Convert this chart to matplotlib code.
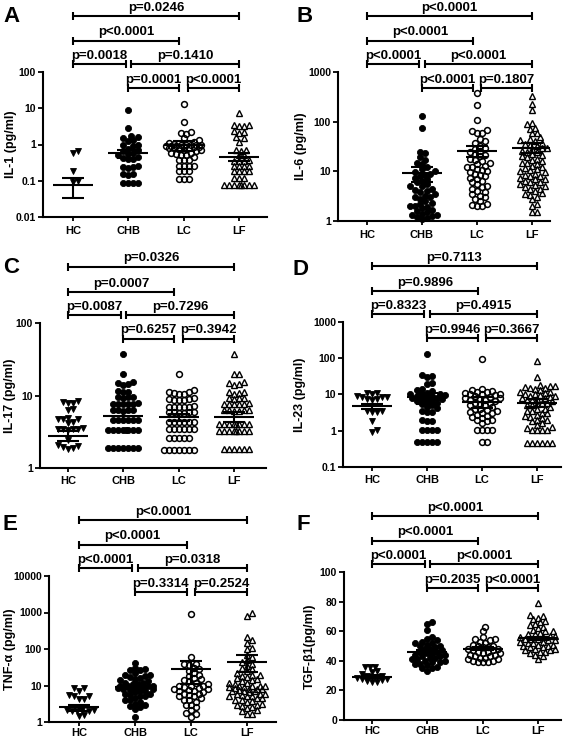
import numpy as np
import matplotlib
matplotlib.use("Agg")
import matplotlib.pyplot as plt
from matplotlib.transforms import blended_transform_factory

plt.rcParams['font.family'] = ['Liberation Sans', 'DejaVu Sans']
plt.rcParams['font.weight'] = 'bold'

GROUPS = ["HC", "CHB", "LC", "LF"]

# ---------------- Panel A: IL-1 ----------------
IL1_HC = [0.60, 0.66, 0.18, 0.10, 0.093]
IL1_CHB = [8.8, 2.8, 1.7, 1.6, 1.5, 1.3, 1.25, 1.0, 0.95, 0.9, 0.75, 0.7, 0.68, 0.6, 0.55, 0.5,
           0.45, 0.42, 0.4, 0.4, 0.25, 0.24, 0.24, 0.23, 0.15, 0.15, 0.145, 0.088, 0.088, 0.088, 0.088]
IL1_LC = [13, 4.1, 2.2, 2.1, 2.0, 1.5, 1.3, 1.2, 1.1, 1.05, 1.0, 1.0, 0.98, 0.95, 0.95, 0.92, 0.9,
          0.9, 0.88, 0.85, 0.85, 0.8, 0.8, 0.78, 0.75, 0.7, 0.7, 0.65, 0.6, 0.58, 0.55, 0.5, 0.5,
          0.45, 0.37, 0.37, 0.37, 0.25, 0.25, 0.25, 0.25, 0.18, 0.18, 0.18, 0.109, 0.109, 0.109]
IL1_LF = [7.2, 3.5, 3.4, 3.3, 3.2, 2.3, 2.2, 2.1, 1.6, 1.5, 1.2, 0.72, 0.7, 0.68, 0.52, 0.5, 0.37,
          0.36, 0.35, 0.35, 0.25, 0.25, 0.25, 0.25, 0.18, 0.18, 0.18, 0.18, 0.116, 0.116, 0.116,
          0.076, 0.076, 0.076, 0.076, 0.076, 0.076, 0.076, 0.076]
IL1_MEAN = [0.077, 0.57, 0.95, 0.46]
IL1_SEM = [0.043, 0.15, 0.3, 0.12]
IL1_P = ["p=0.0018", "p=0.0001", "p<0.0001", "p=0.1410", "p<0.0001", "p=0.0246"]
IL1_TICKS = [0.01, 0.1, 1, 10, 100]
IL1_TICKLABELS = ["0.01", "0.1", "1", "10", "100"]

# ---------------- Panel B: IL-6 ----------------
IL6_HC = []
IL6_CHB = [128, 75, 25, 23, 19, 17, 15, 14, 12, 11, 10, 9.5, 9, 8.5, 8, 7.5, 7, 6.5, 6, 5.5, 5, 5,
           4.5, 4.2, 4, 3.8, 3.5, 3.2, 3, 3, 2.8, 2.5, 2.3, 2.2, 2, 2, 1.9, 1.8, 1.7, 1.6, 1.5, 1.4,
           1.35, 1.3, 1.25, 1.2, 1.15, 1.1]
IL6_LC = [375, 219, 106, 67, 65, 60, 58, 44, 40, 37, 33, 30, 28, 26, 24, 22, 21, 20, 18, 17, 16, 15,
          14, 13, 12.5, 12, 11, 10.5, 10, 9.5, 9, 8.5, 8, 7.5, 7, 6.5, 6, 5.5, 5, 4.8, 4.5, 4, 3.8,
          3.5, 3.2, 3, 2.8, 2.5, 2.2, 2.1, 2.0, 2.0]
IL6_LF = [331, 229, 174, 94, 90, 76, 72, 60, 58, 48, 45, 42, 40, 38, 36, 34, 32, 30, 29, 28, 26, 25,
          24, 22, 21, 20, 19, 18, 17, 16, 15, 14.5, 14, 13, 12, 11.5, 11, 10.5, 10, 9.5, 9, 8.5, 8,
          8, 7.5, 7, 7, 6.5, 6, 6, 5.5, 5.2, 5, 4.8, 4.5, 4.4, 4, 3.6, 3.5, 3.4, 3.0, 2.8, 2.2, 2.0,
          1.5, 1.5]
IL6_MEAN = [None, 9.2, 26, 30]
IL6_SEM = [None, 3.0, 7.0, 7.0]
IL6_P = ["p<0.0001", "p<0.0001", "p=0.1807", "p<0.0001", "p<0.0001", "p<0.0001"]
IL6_TICKS = [1, 10, 100, 1000]
IL6_TICKLABELS = ["1", "10", "100", "1000"]

# ---------------- Panel C: IL-17 ----------------
IL17_HC = [8.3, 8.1, 8.0, 7.8, 6.5, 6.3, 4.9, 4.8, 4.8, 4.7, 4.3, 4.2, 3.6, 3.5, 3.5, 3.5, 3.4, 3.3,
           2.4, 2.05, 2.0, 1.95, 1.9, 1.85]
IL17_CHB = [37, 19.5, 15.5, 15, 14.5, 14, 11.5, 11.2, 11, 9.6, 9.4, 9.4, 9.2, 7.8, 7.7, 7.7, 7.7,
            7.6, 7.6, 6.4, 6.3, 6.3, 6.3, 6.2, 4.6, 4.6, 4.6, 4.6, 4.6, 4.6, 3.3, 3.3, 3.3, 3.3,
            3.3, 3.3, 3.3, 3.3, 1.9, 1.9, 1.9, 1.9, 1.9, 1.9, 1.9]
IL17_LC = [19.5, 11.8, 11.2, 11, 10.8, 10.6, 10.4, 9.2, 9.0, 9.0, 8.8, 8.8, 8.6, 7.1, 7.0, 7.0, 7.0,
           6.9, 6.9, 6.0, 5.9, 5.9, 5.9, 5.8, 5.8, 4.3, 4.3, 4.3, 4.3, 4.3, 4.3, 3.4, 3.4, 3.4, 3.4,
           3.4, 3.4, 2.6, 2.6, 2.6, 2.6, 2.6, 1.75, 1.75, 1.75, 1.75, 1.75, 1.75, 1.75]
IL17_LF = [37, 20, 19.5, 15.5, 15, 14.5, 14, 11.2, 11, 10.8, 10.6, 9.3, 9.2, 9.1, 9.0, 7.8, 7.7, 7.7,
           7.7, 7.6, 7.6, 6.3, 6.3, 6.3, 6.3, 6.2, 6.2, 4.1, 4.1, 4.1, 4.1, 4.1, 4.1, 4.1, 4.1, 3.2,
           3.2, 3.2, 3.2, 3.2, 3.2, 3.2, 3.2, 1.85, 1.85, 1.85, 1.85, 1.85, 1.85]
IL17_MEAN = [2.8, 5.2, 5.0, 5.1]
IL17_SEM = [0.45, 0.7, 0.5, 0.8]
IL17_P = ["p=0.0087", "p=0.6257", "p=0.3942", "p=0.7296", "p=0.0007", "p=0.0326"]
IL17_TICKS = [1, 10, 100]
IL17_TICKLABELS = ["1", "10", "100"]

# ---------------- Panel D: IL-23 ----------------
IL23_HC = [11, 10.7, 10.4, 9.0, 8.8, 8.6, 8.4, 7.5, 7.3, 7.1, 3.5, 3.4, 3.3, 3.2, 1.9, 1.05, 0.95]
IL23_CHB = [131, 35, 32, 30, 21, 19, 14, 13, 12.5, 11, 10.5, 10, 10, 9.5, 9, 9, 8.5, 8, 8, 7.5, 7.5,
            7, 6.5, 6.5, 6, 5.5, 5, 4.5, 4.2, 3.5, 3.3, 3.2, 2.0, 1.9, 1.8, 1.05, 1.04, 1.03, 1.02,
            0.49, 0.49, 0.49, 0.49, 0.49]
IL23_LC = [93, 14, 13, 12.5, 12, 11.5, 11, 10.5, 10, 10, 9.5, 9, 8.5, 8, 8, 7.5, 7, 7, 6.5, 6, 6,
           5.5, 5, 5, 4.5, 4, 4, 3.8, 3.5, 3.2, 3, 3, 2.8, 2.6, 2.4, 2.2, 2.0, 2.0, 1.8, 1.6, 1.05,
           1.04, 1.03, 1.02, 0.49, 0.49]
IL23_LF = [85, 31, 18, 17.5, 17, 16, 15, 15, 14, 13, 12, 12, 11, 10, 10, 9.5, 9, 9, 8.5, 8, 8, 7.5,
           7, 7, 6.5, 6, 6, 5.5, 5, 5, 4.5, 4, 4, 3.5, 3.5, 3, 3, 2.8, 2.6, 2.4, 2.2, 2, 2, 1.8, 1.6,
           1.4, 1.3, 1.2, 1.05, 1.04, 1.03, 1.02, 0.46, 0.46, 0.46, 0.46, 0.46, 0.46]
IL23_MEAN = [4.7, 8.3, 6.3, 6.0]
IL23_SEM = [0.8, 3.0, 2.0, 1.5]
IL23_P = ["p=0.8323", "p=0.9946", "p=0.3667", "p=0.4915", "p=0.9896", "p=0.7113"]
IL23_TICKS = [0.1, 1, 10, 100, 1000]
IL23_TICKLABELS = ["0.1", "1", "10", "100", "1000"]

# ---------------- Panel E: TNF-alpha ----------------
TNF_HC = [8.6, 8.3, 7.2, 5.5, 5.3, 5.1, 4.4, 4.2, 2.2, 2.1, 2.1, 2.0, 2.0, 1.95, 1.55, 1.45]
TNF_CHB = [42, 30, 28, 27, 26, 22, 20, 19, 18, 17, 16, 15, 14, 13, 12, 12, 11, 11, 10, 10, 10, 9.5,
           9, 9, 8.5, 8, 8, 7.5, 7, 7, 6.5, 6, 6, 5.5, 5, 5, 4.5, 4, 4, 3.5, 3.2, 3, 2.8, 2.5, 2.3,
           1.4]
TNF_LC = [900, 60, 40, 38, 36, 30, 28, 25, 22, 20, 18, 16, 15, 14, 13, 12, 11, 10, 10, 9.5, 9, 8.5,
          8, 8, 7.5, 7, 7, 6.5, 6, 6, 5.5, 5, 5, 4.5, 4, 4, 3.5, 3, 3, 2.5, 2.2, 1.8, 1.7, 1.4]
TNF_LF = [940, 800, 220, 180, 145, 107, 100, 68, 60, 50, 45, 40, 35, 30, 28, 25, 22, 20, 20, 18, 17,
          16, 15, 14, 13, 12, 12, 11, 10, 10, 10, 9.5, 9, 9, 8.5, 8, 8, 8, 7.5, 7, 7, 7, 6.5, 6, 6,
          6, 5.5, 5, 5, 5, 4.5, 4.5, 4, 4, 3.8, 3.5, 3.2, 3, 3, 2.8, 2.6, 2.4, 2.2, 2, 1.7, 1.7]
TNF_MEAN = [2.5, 9.0, 29, 45]
TNF_SEM = [0.5, 1.2, 18, 22]
TNF_P = ["p<0.0001", "p=0.3314", "p=0.2524", "p=0.0318", "p<0.0001", "p<0.0001"]
TNF_TICKS = [1, 10, 100, 1000, 10000]
TNF_TICKLABELS = ["1", "10", "100", "1000", "10000"]

# ---------------- Panel F: TGF-beta1 ----------------
TGF_HC = [36, 35.5, 35.5, 33, 32.5, 31, 30, 29.5, 29, 29, 28.5, 28, 27.5, 27, 26.5, 26, 25.5]
TGF_CHB = [66, 65, 61, 56, 55, 54, 53, 52, 52, 51, 50, 50, 49, 48, 48, 47, 46, 46, 45, 45, 44, 44,
           43, 43, 42, 42, 41, 41, 40, 40, 39, 39, 38, 38, 37, 36, 35, 35, 33]
TGF_LC = [63, 60, 56, 55, 55, 54, 53, 52, 51, 50, 50, 49, 49, 48, 48, 47, 47, 46, 46, 45, 45, 44, 44,
          43, 43, 42, 42, 41, 41, 40, 40, 39, 39, 39]
TGF_LF = [79, 71, 70, 69, 68, 67, 66, 65, 64, 63, 62, 61, 60, 60, 59, 58, 58, 57, 57, 56, 56, 55, 55,
          55, 54, 54, 53, 53, 52, 52, 51, 51, 50, 50, 49, 49, 48, 48, 47, 47, 46, 46, 45, 44, 43, 41]
TGF_MEAN = [29.3, 46, 48.3, 55.2]
TGF_SEM = [0.8, 1.2, 0.9, 1.0]
TGF_P = ["p<0.0001", "p=0.2035", "p<0.0001", "p<0.0001", "p<0.0001", "p<0.0001"]
TGF_TICKS = [0, 20, 40, 60, 80, 100]
TGF_TICKLABELS = ["0", "20", "40", "60", "80", "100"]

# bracket pairs (same order as the *_P lists) and their stacking level
PAIRS = [(0, 0.95), (1, 1.92), (2.08, 3), (1.05, 3), (0, 1.92), (0, 3)]
LEVELS = [2, 1, 1, 2, 3, 4]
LEVEL_OFFSET_PX = {1: 16, 2: -8, 3: -31, 4: -56}

W, H = 567, 741
fig = plt.figure(figsize=(W / 100, H / 100), dpi=100)

panels = [
    dict(letter="A", lpos=(3, 6), ylabel="IL-1 (pg/ml)", ylx=11, xpad=3.5,
         data=[IL1_HC, IL1_CHB, IL1_LC, IL1_LF], mean=IL1_MEAN, sem=IL1_SEM, p=IL1_P,
         ticks=IL1_TICKS, tl=IL1_TICKLABELS, log=True, box=(43, 267, 72, 217), hc=73, sp=55.3),
    dict(letter="B", lpos=(296, 6), ylabel="IL-6 (pg/ml)", ylx=301, xpad=3.5,
         data=[IL6_HC, IL6_CHB, IL6_LC, IL6_LF], mean=IL6_MEAN, sem=IL6_SEM, p=IL6_P,
         ticks=IL6_TICKS, tl=IL6_TICKLABELS, log=True, box=(338, 550, 72, 221), hc=367, sp=55),
    dict(letter="C", lpos=(3, 257), ylabel="IL-17 (pg/ml)", ylx=10, xpad=3.0,
         data=[IL17_HC, IL17_CHB, IL17_LC, IL17_LF], mean=IL17_MEAN, sem=IL17_SEM, p=IL17_P,
         ticks=IL17_TICKS, tl=IL17_TICKLABELS, log=True, box=(40, 266, 323, 468), hc=68, sp=55.3),
    dict(letter="D", lpos=(293, 259), ylabel="IL-23 (pg/ml)", ylx=300, xpad=3.0,
         data=[IL23_HC, IL23_CHB, IL23_LC, IL23_LF], mean=IL23_MEAN, sem=IL23_SEM, p=IL23_P,
         ticks=IL23_TICKS, tl=IL23_TICKLABELS, log=True, box=(343, 561, 322, 467), hc=372, sp=55),
    dict(letter="E", lpos=(3, 514), ylabel="TNF-α (pg/ml)", ylx=10, xpad=1.5,
         data=[TNF_HC, TNF_CHB, TNF_LC, TNF_LF], mean=TNF_MEAN, sem=TNF_SEM, p=TNF_P,
         ticks=TNF_TICKS, tl=TNF_TICKLABELS, log=True, box=(49, 276, 576, 722), hc=79, sp=56),
    dict(letter="F", lpos=(296, 514), ylabel="TGF-β1(pg/ml)", ylx=310, xpad=1.5,
         data=[TGF_HC, TGF_CHB, TGF_LC, TGF_LF], mean=TGF_MEAN, sem=TGF_SEM, p=TGF_P,
         ticks=TGF_TICKS, tl=TGF_TICKLABELS, log=False, box=(344, 561, 572, 720), hc=372, sp=55.3),
]

MARKERS = [dict(marker="v", mfc="black", mec="black", ms=4.8, mew=0.6),
           dict(marker="o", mfc="black", mec="black", ms=4.4, mew=0.6),
           dict(marker="o", mfc="none", mec="black", ms=4.2, mew=1.1),
           dict(marker="^", mfc="none", mec="black", ms=4.8, mew=1.0)]


def swarm(ypix, d, maxw):
    xs = np.zeros(len(ypix))
    order = np.argsort(ypix)
    step = d / 2.0
    cands = [0.0]
    k = 1
    while k * step <= maxw:
        cands += [k * step, -k * step]
        k += 1
    px, py = [], []
    for i in order:
        y = ypix[i]
        chosen, bestc, bests = None, 0.0, -1
        ax_ = np.array(px)
        ay_ = np.array(py)
        for c in cands:
            dist = np.sqrt((ax_ - c) ** 2 + (ay_ - y) ** 2).min() if len(px) else np.inf
            if dist >= d * 0.97:
                chosen = c
                break
            if dist > bests:
                bests, bestc = dist, c
        if chosen is None:
            chosen = bestc
        xs[i] = chosen
        px.append(chosen)
        py.append(y)
    return xs


for P in panels:
    L, R, T, B = P["box"]
    ax = fig.add_axes([L / W, 1 - B / H, (R - L) / W, (B - T) / H])
    x0 = (L - P["hc"]) / P["sp"]
    x1 = (R - P["hc"]) / P["sp"]
    ax.set_xlim(x0, x1)
    if P["log"]:
        ax.set_yscale("log")
    ax.set_ylim(P["ticks"][0], P["ticks"][-1])
    ax.set_yticks(P["ticks"])
    ax.set_yticklabels(P["tl"])
    ax.yaxis.set_minor_locator(matplotlib.ticker.NullLocator())
    ax.set_xticks(range(4))
    ax.set_xticklabels(GROUPS)
    for s in ["top", "right"]:
        ax.spines[s].set_visible(False)
    for s in ["left", "bottom"]:
        ax.spines[s].set_linewidth(1.5)
    ax.tick_params(axis="y", length=3.5, width=1.3, labelsize=7.5, pad=1.5)
    ax.tick_params(axis="x", length=3.0, width=1.3, labelsize=8, pad=P["xpad"])
    for lab in ax.get_xticklabels() + ax.get_yticklabels():
        lab.set_fontweight("bold")
    ax.set_ylabel(P["ylabel"], fontsize=9, fontweight="bold")
    # label anchor is the right-hand side of the rotated text
    ax.yaxis.set_label_coords((P["ylx"] + 6 - L) / (R - L), 0.5)

    pxper = P["sp"]
    for gi, vals in enumerate(P["data"]):
        if len(vals) == 0:
            continue
        v = np.asarray(vals, dtype=float)
        ypix = ax.transData.transform(np.column_stack([np.full(len(v), gi), v]))[:, 1]
        off = swarm(ypix, 5.0, 18.0)
        ax.plot(gi + off / pxper, v, linestyle="none", clip_on=False, zorder=3, **MARKERS[gi])
    for gi in range(4):
        m, s = P["mean"][gi], P["sem"][gi]
        if m is None:
            continue
        kw = dict(color="black", lw=1.5, solid_capstyle="butt", zorder=4)
        ax.plot([gi - 0.36, gi + 0.36], [m, m], **kw)
        ax.plot([gi - 0.2, gi + 0.2], [m + s, m + s], **kw)
        ax.plot([gi - 0.2, gi + 0.2], [m - s, m - s], **kw)
        ax.plot([gi, gi], [m - s, m + s], **kw)

    trans = blended_transform_factory(ax.transData, fig.transFigure)
    for (a, b), lev, lab in zip(PAIRS, LEVELS, P["p"]):
        ypx = T + LEVEL_OFFSET_PX[lev]
        yf = 1 - ypx / H
        dy = 4.0 / H
        kw = dict(color="black", lw=1.5, transform=trans, clip_on=False, solid_capstyle="butt")
        ax.plot([a, b], [yf, yf], **kw)
        ax.plot([a, a], [yf - dy, yf + dy], **kw)
        ax.plot([b, b], [yf - dy, yf + dy], **kw)
        ax.text((a + b) / 2, yf + 2.5 / H, lab, transform=trans, ha="center", va="bottom",
                fontsize=9.5, fontweight="bold")

    fig.text(P["lpos"][0] / W, 1 - P["lpos"][1] / H, P["letter"], fontsize=16,
             fontweight="bold", ha="left", va="top")

fig.savefig("out.png", dpi=100, facecolor="white")
